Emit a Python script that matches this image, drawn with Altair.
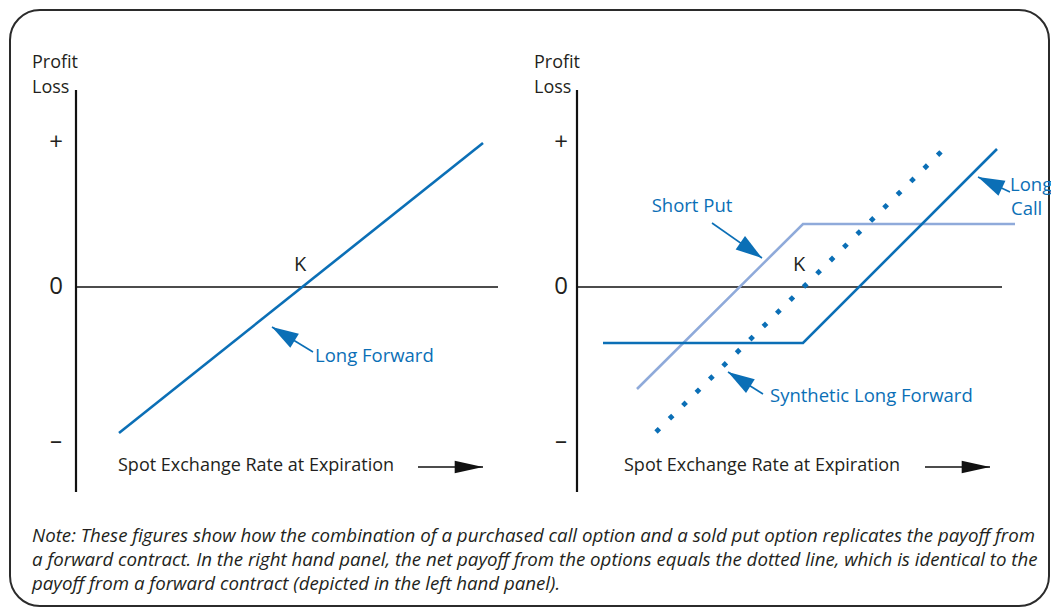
import math
import altair as alt
import pandas as pd

# ---------------- layout of the canvas (diagram units = pixels) -------------
W, H, PAD = 1039, 596, 2
X0, Y0 = 8 + PAD, 8 + PAD
ZERO = 287                     # row of the break-even (0) line

BLUE = "#0B6FB6"
LIGHT = "#8FAADA"
INK = "#231F20"
FONT = "Open Sans"

# ---------------- payoff data (spot position, profit/loss) -----------------
forward_spot = [119, 483]
forward_pl = [-146, 144]

call_spot = [603, 803, 997]
call_pl = [-56, -56, 138]

put_spot = [637, 803, 1015]
put_pl = [-102, 63, 63]

synthetic_spot = [656, 949]
synthetic_pl = [-145, 143]

# axis frames of the two panels
axis_x = [76, 577]
axis_top = [197, 197]
axis_bottom = [-205, -205]
zero_end = [498, 1002]

# ---------------- text ------------------------------------------------------
black_left_text = ["Profit", "Loss", "Spot Exchange Rate at Expiration",
                   "Profit", "Loss", "Spot Exchange Rate at Expiration"]
black_left_x = [32, 32, 118, 534, 534, 624]
black_left_y = [224, 199, -179, 224, 199, -179]

sign_text = ["+", "0", "–", "+", "0", "–"]
sign_x = [56, 56, 56, 561, 561, 561]
sign_y = [144, 0, -155, 144, 0, -155]

k_text = ["K", "K"]
k_x = [300, 799]
k_y = [22, 22]

blue_left_text = ["Long Forward", "Long", "Call", "Synthetic Long Forward"]
blue_left_x = [315, 1010, 1011, 770]
blue_left_y = [-69, 102, 78, -109]

blue_center_text = ["Short Put"]
blue_center_x = [692]
blue_center_y = [81]

note_lines = [
    "Note: These figures show how the combination of a purchased call option and a sold put option replicates the payoff from",
    "a forward contract. In the right hand panel, the net payoff from the options equals the dotted line, which is identical to the",
    "payoff from a forward contract (depicted in the left hand panel).",
]
note_x = [32, 32, 32]
note_y = [-249, -273, -297]

# annotation arrows: tail -> tip
ann_tail_x = [313, 712, 763, 1010]
ann_tail_y = [-65, 64, -107, 95]
ann_tip_x = [272, 762, 728, 978]
ann_tip_y = [-40, 29, -85, 110]

# spot-rate arrows
spot_tail_x = [418, 925]
spot_tip_x = [483, 990]
spot_y = [-180, -180]

# ---------------- scales ----------------------------------------------------
xs = alt.Scale(domain=[X0, X0 + W], nice=False, zero=False)
ys = alt.Scale(domain=[ZERO - (Y0 + H), ZERO - Y0], nice=False, zero=False)
X = lambda f="x": alt.X(f"{f}:Q", scale=xs, axis=None)
Y = lambda f="y": alt.Y(f"{f}:Q", scale=ys, axis=None)


def series(name, xs_, ys_):
    return pd.DataFrame({"s": name, "i": range(len(xs_)), "x": xs_, "y": ys_})


def angle(dx, dy):
    return math.degrees(math.atan2(dx, dy)) % 360


# axes frames
frame_v = pd.DataFrame({"x": axis_x, "y": axis_top, "y2": axis_bottom})
frame_h = pd.DataFrame({"x": axis_x, "x2": zero_end, "y": [0, 0]})
vrule = alt.Chart(frame_v).mark_rule(color="#111", strokeWidth=2.2).encode(
    x=X(), y=Y(), y2="y2:Q")
hrule = alt.Chart(frame_h).mark_rule(color="#111", strokeWidth=1.4).encode(
    x=X(), x2="x2:Q", y=Y())

# payoff lines
dark_df = pd.concat([series("forward", forward_spot, forward_pl),
                     series("call", call_spot, call_pl)])
dark = alt.Chart(dark_df).mark_line(color=BLUE, strokeWidth=2.6).encode(
    x=X(), y=Y(), detail="s:N", order="i:Q")
put = alt.Chart(series("put", put_spot, put_pl)).mark_line(
    color=LIGHT, strokeWidth=2.6).encode(x=X(), y=Y(), order="i:Q")
synth = alt.Chart(series("syn", synthetic_spot, synthetic_pl)).mark_line(
    color=BLUE, strokeWidth=4.8, strokeDash=[4.8, 14.0], strokeCap="butt").encode(
    x=X(), y=Y(), order="i:Q")

# annotation arrows
ann = pd.DataFrame({"x": ann_tail_x, "y": ann_tail_y, "x2": ann_tip_x, "y2": ann_tip_y})
ann["a"] = [angle(b - a, d - c) for a, b, c, d in zip(ann_tail_x, ann_tip_x, ann_tail_y, ann_tip_y)]
shafts = alt.Chart(ann).mark_rule(color=BLUE, strokeWidth=1.6).encode(
    x=X(), y=Y(), x2="x2:Q", y2="y2:Q")
heads = alt.Chart(ann).mark_point(
    shape="M0,0L-0.62,2L0.62,2Z", filled=True, opacity=1, color=BLUE, size=700, strokeWidth=0
).encode(x=X("x2"), y=Y("y2"), angle=alt.Angle("a:Q", scale=None))

spot = pd.DataFrame({"x": spot_tail_x, "x2": spot_tip_x, "y": spot_y})
spot["a"] = [angle(b - a, 0) for a, b in zip(spot_tail_x, spot_tip_x)]
spot_shaft = alt.Chart(spot).mark_rule(color="#111", strokeWidth=1.4).encode(
    x=X(), x2="x2:Q", y=Y())
spot_head = alt.Chart(spot).mark_point(
    shape="M0,0L-0.45,2L0.45,2Z", filled=True, opacity=1, color="#111", size=800, strokeWidth=0
).encode(x=X("x2"), y=Y(), angle=alt.Angle("a:Q", scale=None))


def texts(t, x, y, color, align, size=18.5, style="normal"):
    df = pd.DataFrame({"t": t, "x": x, "y": y})
    return alt.Chart(df).mark_text(
        align=align, baseline="middle", font=FONT, fontSize=size, color=color,
        fontStyle=style
    ).encode(x=X(), y=Y(), text="t:N")


layers = [
    vrule, hrule, put, dark, synth, shafts, heads, spot_shaft, spot_head,
    texts(black_left_text, black_left_x, black_left_y, INK, "left", 18),
    texts(sign_text, sign_x, sign_y, INK, "center", 24),
    texts(k_text, k_x, k_y, INK, "center", 20),
    texts(blue_left_text, blue_left_x, blue_left_y, BLUE, "left", 18.5),
    texts(blue_center_text, blue_center_x, blue_center_y, BLUE, "center", 18.5),
    texts(note_lines, note_x, note_y, INK, "left", 18.7, "italic"),
]

chart = alt.layer(*layers).properties(
    width=W, height=H, padding=PAD, autosize=alt.AutoSizeParams(type="none")
).configure_view(
    stroke="#2b2b2b", strokeWidth=2, cornerRadius=30
)

chart.save("out.html", embed_options={"renderer": "svg", "actions": False})
